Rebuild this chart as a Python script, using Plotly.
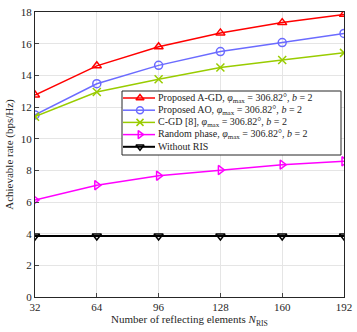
import plotly.graph_objects as go

n_ris = [32, 64, 96, 128, 160, 192]
agd = [12.76, 14.6, 15.8, 16.68, 17.33, 17.85]
ao = [11.5, 13.47, 14.63, 15.5, 16.07, 16.65]
cgd = [11.39, 12.95, 13.75, 14.49, 14.97, 15.42]
rand_phase = [6.13, 7.06, 7.66, 8.02, 8.36, 8.57]
no_ris = [3.85, 3.85, 3.85, 3.85, 3.85, 3.85]

suffix = ", <i>φ</i><sub>max</sub> = 306.82°, <i>b</i> = 2"
names = ["Proposed A-GD" + suffix, "Proposed AO" + suffix, "C-GD [8]" + suffix,
         "Random phase" + suffix, "Without RIS"]
series = [agd, ao, cgd, rand_phase, no_ris]
colors = ["#ff0000", "#6b6bff", "#99cc00", "#ff00ff", "#000000"]
symbols = ["triangle-up-open", "circle-open", "x-thin-open", "triangle-right-open", "triangle-down-open"]
widths = [1.5, 1.5, 1.5, 1.5, 2]

W, H = 357, 332
ML, MR, MT, MB = 35, 13, 12, 35

fig = go.Figure()
for nm, ys, c, s, w in zip(names, series, colors, symbols, widths):
    fig.add_trace(go.Scatter(x=n_ris, y=ys, name=nm, mode="lines+markers", showlegend=False,
                             line=dict(color=c, width=w),
                             marker=dict(symbol=s, size=8, color=c, line=dict(color=c, width=1.5))))

# Compact legend drawn on an overlay axis measured in page pixels
box_l, box_r, box_t, box_b = 122, 341, 91, 155
item_y = [98, 110.2, 122.4, 134.6, 146.8]
line_x0, line_x1, mark_x, text_x = 123, 155, 140, 156

fig.add_trace(go.Scatter(x=[box_l, box_r, box_r, box_l, box_l], y=[box_t, box_t, box_b, box_b, box_t],
                         mode="lines", fill="toself", fillcolor="white",
                         line=dict(color="#262626", width=1), xaxis="x2", yaxis="y2",
                         showlegend=False, hoverinfo="skip"))
for nm, c, s, w, yy in zip(names, colors, symbols, widths, item_y):
    fig.add_trace(go.Scatter(x=[line_x0, line_x1], y=[yy, yy], mode="lines",
                             line=dict(color=c, width=w), xaxis="x2", yaxis="y2",
                             showlegend=False, hoverinfo="skip"))
    fig.add_trace(go.Scatter(x=[mark_x], y=[yy], mode="markers",
                             marker=dict(symbol=s, size=7, color=c, line=dict(color=c, width=1.5)),
                             xaxis="x2", yaxis="y2", showlegend=False, hoverinfo="skip"))
    fig.add_annotation(x=text_x, y=yy, xref="x2", yref="y2", text=nm, showarrow=False,
                       xanchor="left", yanchor="middle", font=dict(size=10, color="#262626"))

font = "Liberation Serif, Times New Roman, serif"
fig.update_layout(
    width=W, height=H,
    margin=dict(l=ML, r=MR, t=MT, b=MB, autoexpand=False),
    paper_bgcolor="white", plot_bgcolor="white",
    font=dict(family=font, size=11, color="#262626"),
    showlegend=False,
    xaxis=dict(range=[32, 192], tickvals=n_ris, showgrid=True, gridcolor="#e5e5e5",
               showline=True, linecolor="#262626", mirror=True, ticks="inside", ticklen=4,
               zeroline=False, automargin=False,
               title=dict(text="Number of reflecting elements <i>N</i><sub>RIS</sub>", standoff=2,
                          font=dict(size=11))),
    yaxis=dict(range=[0, 18], dtick=2, showgrid=True, gridcolor="#e5e5e5",
               showline=True, linecolor="#262626", mirror=True, ticks="inside", ticklen=4,
               zeroline=False, automargin=False,
               title=dict(text="Achievable rate (bps/Hz)", standoff=4, font=dict(size=11))),
    xaxis2=dict(overlaying="x", range=[ML, W - MR], visible=False, fixedrange=True),
    yaxis2=dict(overlaying="y", range=[H - MB, MT], visible=False, fixedrange=True),
)
fig.write_html("out.html", config={"displayModeBar": False},
               post_script="document.body.style.margin='0';document.body.style.overflow='hidden';")
